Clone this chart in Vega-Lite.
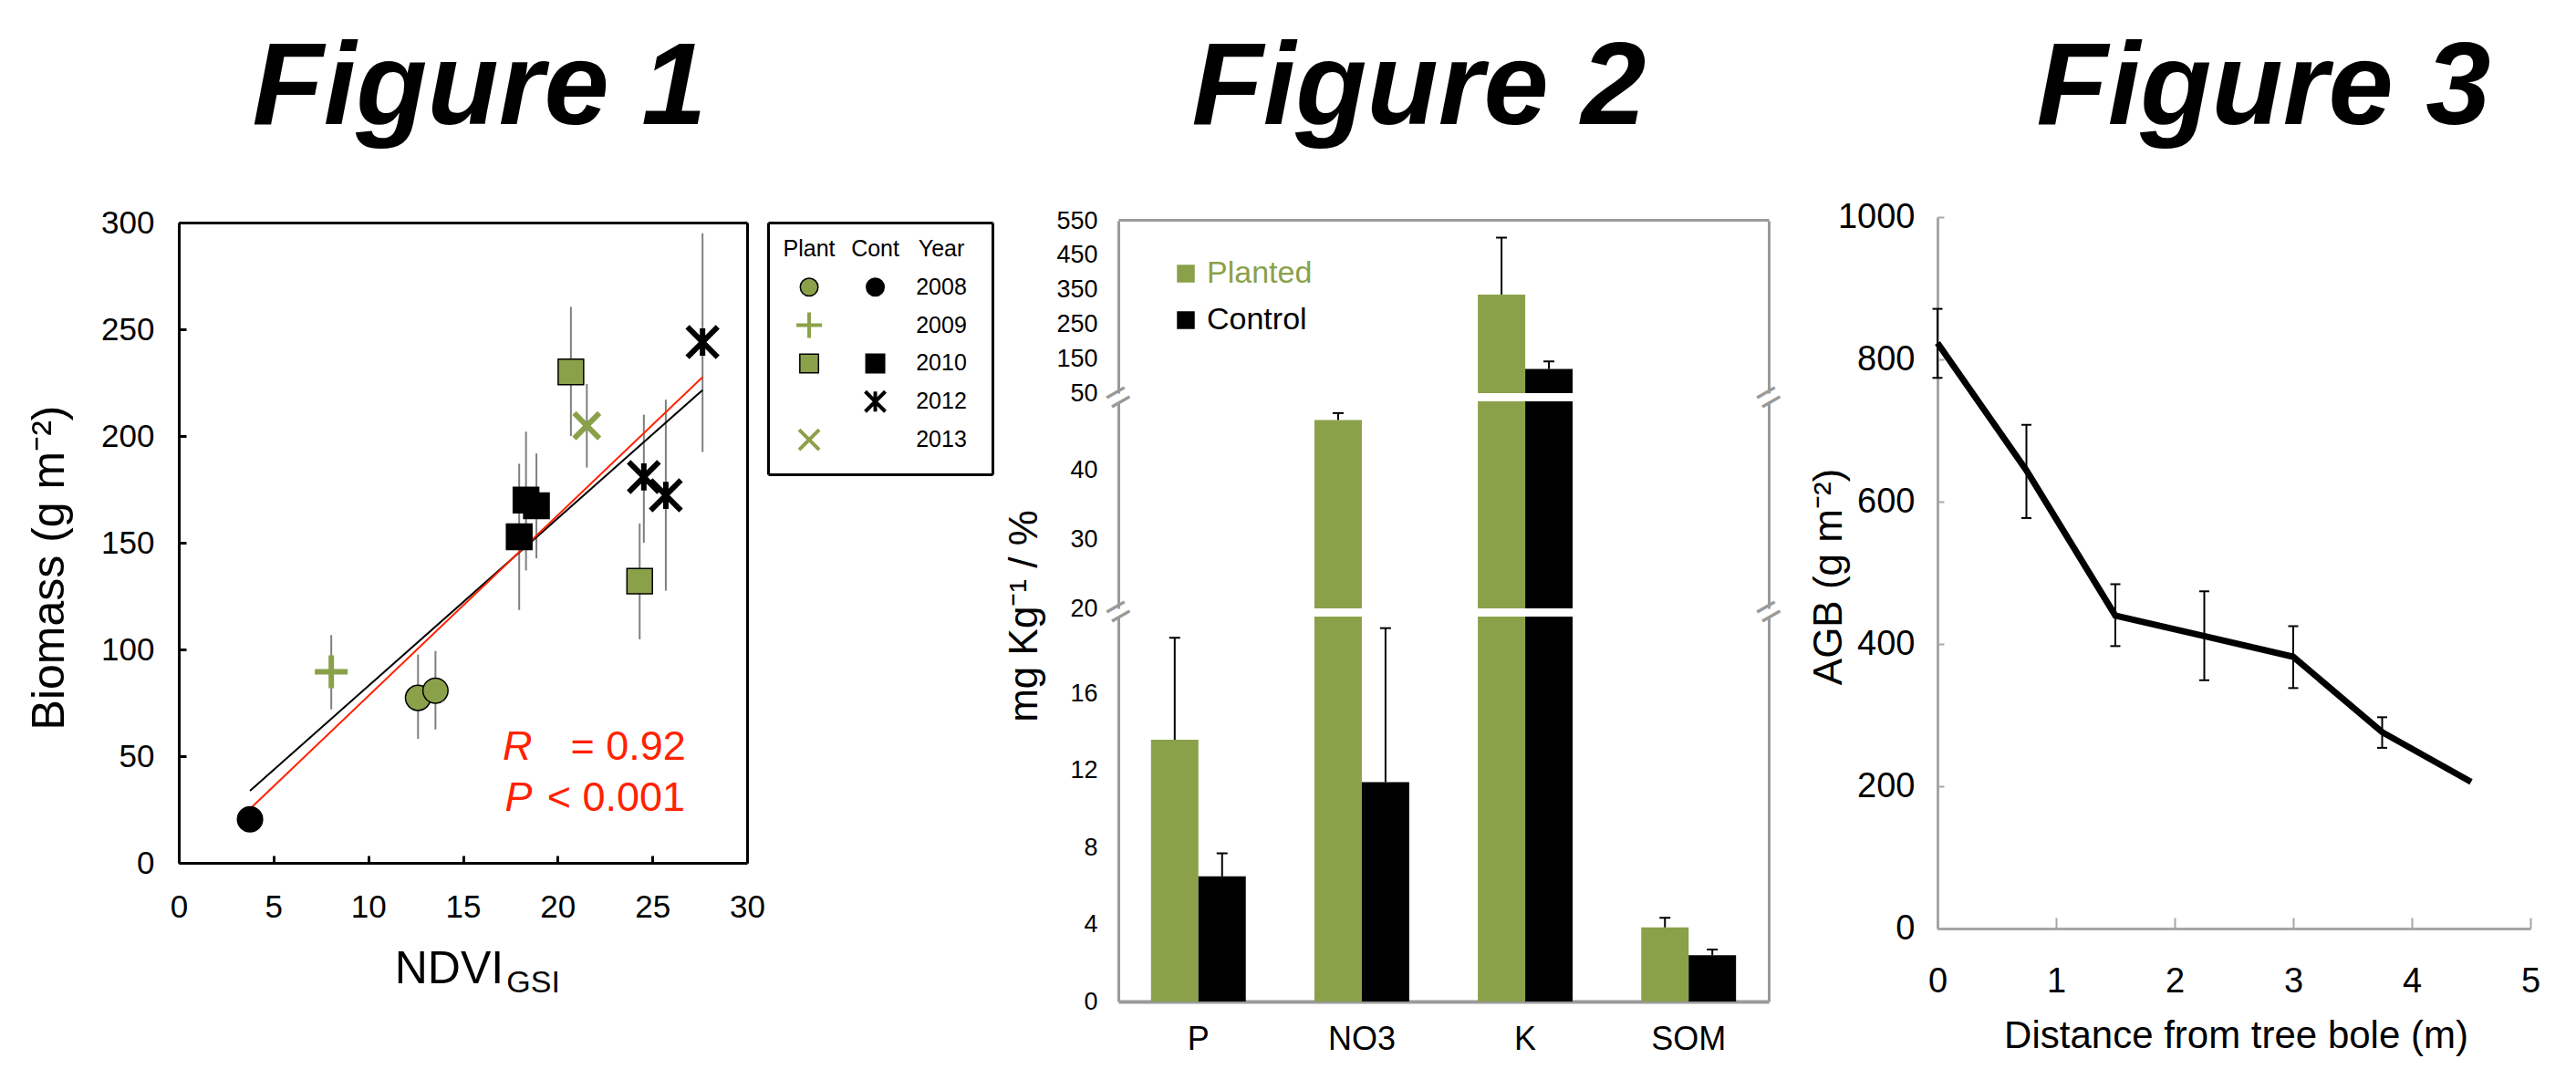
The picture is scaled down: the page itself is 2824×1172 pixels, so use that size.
{
  "$schema": "https://vega.github.io/schema/vega-lite/v6.json",
  "width": 2824,
  "height": 1172,
  "autosize": {"type": "none"},
  "padding": 0,
  "background": "white",
  "config": {
    "view": {"stroke": null},
    "font": "Liberation Sans",
    "axis": {"grid": false, "labelColor": "black", "titleColor": "black", "titleFontWeight": "normal", "labelFlush": false, "labelOverlap": false, "labelBound": false}
  },
  "datasets": {
    "fig1": [
      {"group": "Cont", "year": 2008, "ndvi": 3.76, "biomass": 20.4},
      {"group": "Plant", "year": 2008, "ndvi": 12.63, "biomass": 77.3, "lo": 58.1, "hi": 97.6},
      {"group": "Plant", "year": 2008, "ndvi": 13.55, "biomass": 80.7, "lo": 62.5, "hi": 99.3},
      {"group": "Plant", "year": 2009, "ndvi": 8.05, "biomass": 89.5, "lo": 71.9, "hi": 106.7},
      {"group": "Plant", "year": 2010, "ndvi": 20.7, "biomass": 230, "lo": 200, "hi": 260.5},
      {"group": "Plant", "year": 2010, "ndvi": 24.33, "biomass": 132, "lo": 104.7, "hi": 159},
      {"group": "Cont", "year": 2010, "ndvi": 17.97, "biomass": 152.8, "lo": 118.5, "hi": 187},
      {"group": "Cont", "year": 2010, "ndvi": 18.33, "biomass": 170, "lo": 137, "hi": 202},
      {"group": "Cont", "year": 2010, "ndvi": 18.88, "biomass": 167.3, "lo": 142.7, "hi": 191.8},
      {"group": "Cont", "year": 2012, "ndvi": 24.55, "biomass": 180.8, "lo": 150, "hi": 210},
      {"group": "Cont", "year": 2012, "ndvi": 25.71, "biomass": 172.2, "lo": 127.5, "hi": 217},
      {"group": "Cont", "year": 2012, "ndvi": 27.65, "biomass": 244, "lo": 192.5, "hi": 295},
      {"group": "Plant", "year": 2013, "ndvi": 21.54, "biomass": 204.8, "lo": 185.2, "hi": 224.4}
    ],
    "fits": [
      {"fit": "fit1", "ndvi": 3.76, "biomass": 33.8},
      {"fit": "fit1", "ndvi": 27.65, "biomass": 221.5},
      {"fit": "fit2", "ndvi": 3.76, "biomass": 25.3},
      {"fit": "fit2", "ndvi": 27.65, "biomass": 227.6}
    ],
    "annot": [
      {"line": "R", "part": "stat", "label": "R"},
      {"line": "R", "part": "value", "label": "= 0.92"},
      {"line": "P", "part": "stat", "label": "P"},
      {"line": "P", "part": "value", "label": "< 0.001"}
    ],
    "legsym": [
      {"col": "Plant", "row": "2008"},
      {"col": "Cont", "row": "2008"},
      {"col": "Plant", "row": "2009"},
      {"col": "Plant", "row": "2010"},
      {"col": "Cont", "row": "2010"},
      {"col": "Cont", "row": "2012"},
      {"col": "Plant", "row": "2013"}
    ],
    "legtext": [
      {"col": "Plant", "row": "header", "label": "Plant"},
      {"col": "Cont", "row": "header", "label": "Cont"},
      {"col": "Year", "row": "header", "label": "Year"},
      {"col": "Year", "row": "2008", "label": "2008"},
      {"col": "Year", "row": "2009", "label": "2009"},
      {"col": "Year", "row": "2010", "label": "2010"},
      {"col": "Year", "row": "2012", "label": "2012"},
      {"col": "Year", "row": "2013", "label": "2013"}
    ],
    "fig2": [
      {"nutrient": "P", "treat": "Planted", "mean": 13.6, "upper": 18.9},
      {"nutrient": "P", "treat": "Control", "mean": 6.5, "upper": 7.7},
      {"nutrient": "NO3", "treat": "Planted", "mean": 47.3, "upper": 48.3},
      {"nutrient": "NO3", "treat": "Control", "mean": 11.4, "upper": 19.4},
      {"nutrient": "K", "treat": "Planted", "mean": 336, "upper": 501},
      {"nutrient": "K", "treat": "Control", "mean": 120, "upper": 142},
      {"nutrient": "SOM", "treat": "Planted", "mean": 3.85, "upper": 4.35},
      {"nutrient": "SOM", "treat": "Control", "mean": 2.4, "upper": 2.7}
    ],
    "fig3": [
      {"dist": 0, "agb": 823, "lo": 774, "hi": 871},
      {"dist": 0.75, "agb": 644, "lo": 577, "hi": 708},
      {"dist": 1.5, "agb": 440, "lo": 397, "hi": 484},
      {"dist": 2.25, "agb": 411, "lo": 349, "hi": 474},
      {"dist": 3, "agb": 382, "lo": 338, "hi": 425},
      {"dist": 3.75, "agb": 276, "lo": 254, "hi": 297},
      {"dist": 4.5, "agb": 206}
    ]
  },
  "resolve": {"scale": {"x": "independent", "y": "independent"}, "axis": {"x": "independent", "y": "independent"}},
  "layer": [
    {
      "data": {"name": "fig1"},
      "resolve": {"axis": {"x": "independent", "y": "independent"}},
      "layer": [
        {
          "mark": {"type": "rule", "color": "#7f7f7f", "strokeWidth": 2},
          "encoding": {
            "x": {"field": "ndvi", "type": "quantitative", "scale": {"domain": [0, 30], "range": [196, 819], "nice": false, "zero": false},
              "axis": {"orient": "bottom", "offset": -226, "values": [0, 5, 10, 15, 20, 25, 30], "domainColor": "black", "domainWidth": 3, "tickColor": "black", "tickWidth": 3, "tickSize": -8, "labelFont": "Liberation Sans Narrow, Liberation Sans, sans-serif", "labelFontSize": 35, "labelPadding": 39, "title": "NDVI", "titleFontSize": 50, "titleX": 492, "titleY": 131, "titleBaseline": "alphabetic", "titleAlign": "center"}},
            "y": {"field": "lo", "type": "quantitative", "scale": {"domain": [0, 300], "range": [946, 244], "nice": false, "zero": false},
              "axis": {"orient": "left", "offset": -196, "values": [0, 50, 100, 150, 200, 250, 300], "domainColor": "black", "domainWidth": 3, "tickColor": "black", "tickWidth": 3, "tickSize": -8, "labelFont": "Liberation Sans Narrow, Liberation Sans, sans-serif", "labelFontSize": 35, "labelPadding": 35, "title": "Biomass (g m⁻²)", "titleFontSize": 50, "titleX": -142, "titleY": 622, "titleAngle": -90, "titleBaseline": "middle", "titleAlign": "center"}},
            "y2": {"field": "hi"}
          }
        },
        {
          "data": {"name": "fits"},
          "transform": [{"filter": "datum.fit === 'fit1'"}],
          "mark": {"type": "line", "color": "black", "strokeWidth": 2},
          "encoding": {
            "x": {"field": "ndvi", "type": "quantitative", "scale": {"domain": [0, 30], "range": [196, 819], "nice": false, "zero": false},
              "axis": {"orient": "top", "offset": -244, "domainColor": "black", "domainWidth": 3, "ticks": false, "tickSize": 0, "labels": false, "title": "Figure 1", "titleFont": "Liberation Sans", "titleFontSize": 128, "titleFontWeight": "bold", "titleFontStyle": "italic", "titleX": 525, "titleY": -109, "titleAngle": 0, "titleBaseline": "alphabetic", "titleAlign": "center"}},
            "y": {"field": "biomass", "type": "quantitative", "scale": {"domain": [0, 300], "range": [946, 244], "nice": false, "zero": false},
              "axis": {"orient": "right", "offset": -2005, "domainColor": "black", "domainWidth": 3, "ticks": false, "tickSize": 0, "labels": false, "title": null}}
          }
        },
        {
          "data": {"name": "fits"},
          "transform": [{"filter": "datum.fit === 'fit2'"}],
          "mark": {"type": "line", "color": "#ff2200", "strokeWidth": 2},
          "encoding": {
            "x": {"field": "ndvi", "type": "quantitative", "axis": null},
            "y": {"field": "biomass", "type": "quantitative", "axis": null}
          }
        },
        {
          "transform": [{"filter": "datum.year === 2008"}],
          "mark": {"type": "point", "shape": "circle", "filled": true, "size": 760, "stroke": "black", "strokeWidth": 1.5, "opacity": 1},
          "encoding": {
            "x": {"field": "ndvi", "type": "quantitative", "axis": null},
            "y": {"field": "biomass", "type": "quantitative", "axis": null},
            "fill": {"condition": {"test": "datum.group === 'Plant'", "value": "#8aa14a"}, "value": "black"}
          }
        },
        {
          "transform": [{"filter": "datum.year === 2010"}],
          "mark": {"type": "point", "shape": "square", "filled": true, "size": 780, "stroke": "black", "strokeWidth": 1.5, "opacity": 1},
          "encoding": {
            "x": {"field": "ndvi", "type": "quantitative", "axis": null},
            "y": {"field": "biomass", "type": "quantitative", "axis": null},
            "fill": {"condition": {"test": "datum.group === 'Plant'", "value": "#8aa14a"}, "value": "black"}
          }
        },
        {
          "transform": [{"filter": "datum.year === 2009"}],
          "mark": {"type": "point", "shape": "M-1,0L1,0M0,-1L0,1", "filled": false, "size": 1300, "strokeWidth": 6, "opacity": 1},
          "encoding": {
            "x": {"field": "ndvi", "type": "quantitative", "axis": null},
            "y": {"field": "biomass", "type": "quantitative", "axis": null},
            "stroke": {"condition": {"test": "datum.group === 'Plant'", "value": "#8aa14a"}, "value": "black"}
          }
        },
        {
          "transform": [{"filter": "datum.year === 2012"}],
          "mark": {"type": "point", "shape": "M-1,-1L1,1M-1,1L1,-1M0,-0.9L0,0.9", "filled": false, "size": 1100, "strokeWidth": 6, "opacity": 1},
          "encoding": {
            "x": {"field": "ndvi", "type": "quantitative", "axis": null},
            "y": {"field": "biomass", "type": "quantitative", "axis": null},
            "stroke": {"condition": {"test": "datum.group === 'Plant'", "value": "#8aa14a"}, "value": "black"}
          }
        },
        {
          "transform": [{"filter": "datum.year === 2013"}],
          "mark": {"type": "point", "shape": "M-1,-1L1,1M-1,1L1,-1", "filled": false, "size": 760, "strokeWidth": 6, "opacity": 1},
          "encoding": {
            "x": {"field": "ndvi", "type": "quantitative", "axis": null},
            "y": {"field": "biomass", "type": "quantitative", "axis": null},
            "stroke": {"condition": {"test": "datum.group === 'Plant'", "value": "#8aa14a"}, "value": "black"}
          }
        },
        {
          "data": {"name": "annot"},
          "transform": [{"filter": "datum.line === 'R' && datum.part === 'stat'"}],
          "mark": {"type": "text", "fontSize": 45, "fontStyle": "italic", "color": "#ff2200", "align": "left", "baseline": "alphabetic"},
          "encoding": {"x": {"datum": 17.09, "type": "quantitative", "axis": null}, "y": {"datum": 48.3, "type": "quantitative", "axis": null}, "text": {"field": "label"}}
        },
        {
          "data": {"name": "annot"},
          "transform": [{"filter": "datum.line === 'R' && datum.part === 'value'"}],
          "mark": {"type": "text", "fontSize": 45, "color": "#ff2200", "align": "left", "baseline": "alphabetic"},
          "encoding": {"x": {"datum": 20.68, "type": "quantitative", "axis": null}, "y": {"datum": 48.3, "type": "quantitative", "axis": null}, "text": {"field": "label"}}
        },
        {
          "data": {"name": "annot"},
          "transform": [{"filter": "datum.line === 'P' && datum.part === 'stat'"}],
          "mark": {"type": "text", "fontSize": 45, "fontStyle": "italic", "color": "#ff2200", "align": "left", "baseline": "alphabetic"},
          "encoding": {"x": {"datum": 17.22, "type": "quantitative", "axis": null}, "y": {"datum": 24.5, "type": "quantitative", "axis": null}, "text": {"field": "label"}}
        },
        {
          "data": {"name": "annot"},
          "transform": [{"filter": "datum.line === 'P' && datum.part === 'value'"}],
          "mark": {"type": "text", "fontSize": 45, "color": "#ff2200", "align": "left", "baseline": "alphabetic"},
          "encoding": {"x": {"datum": 19.44, "type": "quantitative", "axis": null}, "y": {"datum": 24.5, "type": "quantitative", "axis": null}, "text": {"field": "label"}}
        },
        {
          "data": {"values": [{"label": "GSI"}]},
          "mark": {"type": "text", "fontSize": 34, "color": "black", "align": "left", "baseline": "alphabetic"},
          "encoding": {"x": {"datum": 17.3, "type": "quantitative", "axis": null}, "y": {"datum": -60.7, "type": "quantitative", "axis": null}, "text": {"field": "label"}}
        }
      ]
    },
    {
      "resolve": {"axis": {"x": "independent", "y": "independent"}},
      "layer": [
        {
          "data": {"name": "legtext"},
          "mark": {"type": "text", "fontSize": 25, "align": "center", "baseline": "middle", "color": "black"},
          "encoding": {
            "x": {"field": "col", "type": "nominal", "scale": {"type": "point", "domain": ["Plant", "Cont", "Year"], "range": [842, 1088], "padding": 0.697, "align": 0.446},
              "axis": {"orient": "bottom", "offset": -652, "domainColor": "black", "domainWidth": 3, "ticks": false, "tickSize": 0, "labels": false, "title": null}},
            "y": {"field": "row", "type": "nominal", "scale": {"type": "point", "domain": ["header", "2008", "2009", "2010", "2012", "2013"], "range": [244, 520], "padding": 0.8, "align": 0.433},
              "axis": {"orient": "left", "offset": -842, "domainColor": "black", "domainWidth": 3, "ticks": false, "tickSize": 0, "labels": false, "title": null}},
            "text": {"field": "label"}
          }
        },
        {
          "data": {"name": "legsym"},
          "transform": [{"filter": "datum.row === '2008'"}],
          "mark": {"type": "point", "shape": "circle", "filled": true, "size": 380, "stroke": "black", "strokeWidth": 1.5, "opacity": 1},
          "encoding": {
            "x": {"field": "col", "type": "nominal", "axis": {"orient": "top", "offset": -244, "domainColor": "black", "domainWidth": 3, "ticks": false, "tickSize": 0, "labels": false, "title": null}},
            "y": {"field": "row", "type": "nominal", "axis": {"orient": "right", "offset": -1736, "domainColor": "black", "domainWidth": 3, "ticks": false, "tickSize": 0, "labels": false, "title": null}},
            "fill": {"condition": {"test": "datum.col === 'Plant'", "value": "#8aa14a"}, "value": "black"}
          }
        },
        {
          "data": {"name": "legsym"},
          "transform": [{"filter": "datum.row === '2010'"}],
          "mark": {"type": "point", "shape": "square", "filled": true, "size": 420, "stroke": "black", "strokeWidth": 1.5, "opacity": 1},
          "encoding": {
            "x": {"field": "col", "type": "nominal", "axis": null},
            "y": {"field": "row", "type": "nominal", "axis": null},
            "fill": {"condition": {"test": "datum.col === 'Plant'", "value": "#8aa14a"}, "value": "black"}
          }
        },
        {
          "data": {"name": "legsym"},
          "transform": [{"filter": "datum.row === '2009'"}],
          "mark": {"type": "point", "shape": "M-1,0L1,0M0,-1L0,1", "filled": false, "size": 784, "strokeWidth": 4, "opacity": 1},
          "encoding": {
            "x": {"field": "col", "type": "nominal", "axis": null},
            "y": {"field": "row", "type": "nominal", "axis": null},
            "stroke": {"condition": {"test": "datum.col === 'Plant'", "value": "#8aa14a"}, "value": "black"}
          }
        },
        {
          "data": {"name": "legsym"},
          "transform": [{"filter": "datum.row === '2012'"}],
          "mark": {"type": "point", "shape": "M-1,-1L1,1M-1,1L1,-1M0,-1L0,1", "filled": false, "size": 484, "strokeWidth": 4, "opacity": 1},
          "encoding": {
            "x": {"field": "col", "type": "nominal", "axis": null},
            "y": {"field": "row", "type": "nominal", "axis": null},
            "stroke": {"condition": {"test": "datum.col === 'Plant'", "value": "#8aa14a"}, "value": "black"}
          }
        },
        {
          "data": {"name": "legsym"},
          "transform": [{"filter": "datum.row === '2013'"}],
          "mark": {"type": "point", "shape": "M-1,-1L1,1M-1,1L1,-1", "filled": false, "size": 484, "strokeWidth": 4, "opacity": 1},
          "encoding": {
            "x": {"field": "col", "type": "nominal", "axis": null},
            "y": {"field": "row", "type": "nominal", "axis": null},
            "stroke": {"condition": {"test": "datum.col === 'Plant'", "value": "#8aa14a"}, "value": "black"}
          }
        }
      ]
    },
    {
      "data": {"name": "fig2"},
      "resolve": {"scale": {"y": "independent"}, "axis": {"x": "independent", "y": "independent"}},
      "layer": [
        {
          "resolve": {"axis": {"x": "independent", "y": "independent"}},
          "layer": [
            {
              "mark": {"type": "bar"},
              "encoding": {
                "x": {"field": "nutrient", "type": "nominal", "sort": ["P", "NO3", "K", "SOM"], "scale": {"type": "band", "domain": ["P", "NO3", "K", "SOM"], "range": [1226, 1939], "paddingInner": 0.42, "paddingOuter": 0.2},
                  "axis": {"orient": "top", "offset": -241, "domainColor": "#9a9a9a", "domainWidth": 3, "ticks": false, "tickSize": 0, "labels": false, "title": "Figure 2", "titleFont": "Liberation Sans", "titleFontSize": 128, "titleFontWeight": "bold", "titleFontStyle": "italic", "titleX": 1555, "titleY": -106, "titleAngle": 0, "titleBaseline": "alphabetic", "titleAlign": "center"}},
                "xOffset": {"field": "treat", "type": "nominal", "sort": ["Planted", "Control"]},
                "y": {"field": "mean", "type": "quantitative", "scale": {"domain": [50, 550], "range": [431, 242], "clamp": true, "nice": false, "zero": false},
                  "axis": {"orient": "left", "offset": -1226, "values": [50, 150, 250, 350, 450, 550], "domainColor": "#9a9a9a", "domainWidth": 3, "ticks": false, "tickSize": 0, "labelFontSize": 27, "labelPadding": 23, "title": null}},
                "y2": {"datum": 0},
                "color": {"field": "treat", "type": "nominal", "scale": {"domain": ["Planted", "Control"], "range": ["#8aa14a", "#000000"]},
                  "legend": {"orient": "none", "legendX": 1283, "legendY": 283, "title": null, "direction": "vertical", "symbolType": "square", "symbolSize": 380, "symbolStrokeWidth": 0, "labelFontSize": 34, "labelFont": "Liberation Sans", "labelOffset": 6, "rowPadding": 17, "padding": 0,
                    "encode": {"labels": {"update": {"fill": {"signal": "datum.value === 'Planted' ? '#8aa14a' : '#000000'"}}}}}}
              }
            },
            {
              "transform": [{"filter": "datum.upper > 50"}],
              "mark": {"type": "rule", "color": "black", "strokeWidth": 2},
              "encoding": {
                "x": {"field": "nutrient", "type": "nominal", "sort": ["P", "NO3", "K", "SOM"], "axis": null},
                "xOffset": {"field": "treat", "type": "nominal", "sort": ["Planted", "Control"]},
                "y": {"field": "mean", "type": "quantitative", "axis": {"orient": "right", "offset": -885, "values": [50], "domainColor": "#9a9a9a", "domainWidth": 3, "ticks": false, "tickSize": 0, "labelExpr": "'='", "labelAngle": -30, "labelAlign": "center", "labelBaseline": "middle", "labelPadding": 0, "labelOffset": 5, "labelFontSize": 46, "labelColor": "#9a9a9a", "title": null}},
                "y2": {"field": "upper"}
              }
            },
            {
              "transform": [{"filter": "datum.upper > 50"}],
              "mark": {"type": "tick", "color": "black", "thickness": 2, "size": 12, "opacity": 1},
              "encoding": {
                "x": {"field": "nutrient", "type": "nominal", "sort": ["P", "NO3", "K", "SOM"], "axis": null},
                "xOffset": {"field": "treat", "type": "nominal", "sort": ["Planted", "Control"]},
                "y": {"field": "upper", "type": "quantitative", "axis": {"orient": "left", "offset": -1226, "values": [50], "domain": false, "ticks": false, "tickSize": 0, "labelExpr": "'='", "labelAngle": -30, "labelAlign": "center", "labelBaseline": "middle", "labelPadding": 0, "labelOffset": 5, "labelFontSize": 46, "labelColor": "#9a9a9a", "title": null}}
              }
            }
          ]
        },
        {
          "resolve": {"axis": {"x": "independent", "y": "independent"}},
          "layer": [
            {
              "mark": {"type": "bar"},
              "encoding": {
                "x": {"field": "nutrient", "type": "nominal", "sort": ["P", "NO3", "K", "SOM"], "axis": null},
                "xOffset": {"field": "treat", "type": "nominal", "sort": ["Planted", "Control"]},
                "y": {"field": "mean", "type": "quantitative", "scale": {"domain": [20, 50], "range": [667, 440], "clamp": true, "nice": false, "zero": false},
                  "axis": {"orient": "left", "offset": -1226, "values": [20, 30, 40], "domainColor": "#9a9a9a", "domainWidth": 3, "ticks": false, "tickSize": 0, "labelFontSize": 27, "labelPadding": 23, "title": null}},
                "y2": {"datum": 0},
                "color": {"field": "treat", "type": "nominal", "scale": {"domain": ["Planted", "Control"], "range": ["#8aa14a", "#000000"]}}
              }
            },
            {
              "transform": [{"filter": "datum.upper > 20 && datum.upper <= 50"}],
              "mark": {"type": "rule", "color": "black", "strokeWidth": 2},
              "encoding": {
                "x": {"field": "nutrient", "type": "nominal", "sort": ["P", "NO3", "K", "SOM"], "axis": null},
                "xOffset": {"field": "treat", "type": "nominal", "sort": ["Planted", "Control"]},
                "y": {"field": "mean", "type": "quantitative", "axis": {"orient": "right", "offset": -885, "domainColor": "#9a9a9a", "domainWidth": 3, "ticks": false, "tickSize": 0, "labels": false, "title": null}},
                "y2": {"field": "upper"}
              }
            },
            {
              "transform": [{"filter": "datum.upper > 20 && datum.upper <= 50"}],
              "mark": {"type": "tick", "color": "black", "thickness": 2, "size": 12, "opacity": 1},
              "encoding": {
                "x": {"field": "nutrient", "type": "nominal", "sort": ["P", "NO3", "K", "SOM"], "axis": null},
                "xOffset": {"field": "treat", "type": "nominal", "sort": ["Planted", "Control"]},
                "y": {"field": "upper", "type": "quantitative", "axis": null}
              }
            }
          ]
        },
        {
          "resolve": {"axis": {"x": "independent", "y": "independent"}},
          "layer": [
            {
              "mark": {"type": "bar"},
              "encoding": {
                "x": {"field": "nutrient", "type": "nominal", "sort": ["P", "NO3", "K", "SOM"],
                  "axis": {"orient": "bottom", "offset": -74, "domainColor": "#9a9a9a", "domainWidth": 4, "ticks": false, "tickSize": 0, "labelFontSize": 36, "labelPadding": 24, "labelAngle": 0, "title": null}},
                "xOffset": {"field": "treat", "type": "nominal", "sort": ["Planted", "Control"]},
                "y": {"field": "mean", "type": "quantitative", "scale": {"domain": [0, 20], "range": [1098, 676], "clamp": true, "nice": false, "zero": false},
                  "axis": {"orient": "left", "offset": -1226, "values": [0, 4, 8, 12, 16], "domainColor": "#9a9a9a", "domainWidth": 3, "ticks": false, "tickSize": 0, "labelFontSize": 27, "labelPadding": 23, "title": "mg Kg⁻¹ / %", "titleFontSize": 44, "titleX": -103, "titleY": 675, "titleAngle": -90, "titleBaseline": "middle", "titleAlign": "center"}},
                "y2": {"datum": 0},
                "color": {"field": "treat", "type": "nominal", "scale": {"domain": ["Planted", "Control"], "range": ["#8aa14a", "#000000"]}}
              }
            },
            {
              "transform": [{"filter": "datum.upper <= 20"}],
              "mark": {"type": "rule", "color": "black", "strokeWidth": 2},
              "encoding": {
                "x": {"field": "nutrient", "type": "nominal", "sort": ["P", "NO3", "K", "SOM"], "axis": null},
                "xOffset": {"field": "treat", "type": "nominal", "sort": ["Planted", "Control"]},
                "y": {"field": "mean", "type": "quantitative", "axis": {"orient": "right", "offset": -885, "values": [20], "domainColor": "#9a9a9a", "domainWidth": 3, "ticks": false, "tickSize": 0, "labelExpr": "'='", "labelAngle": -30, "labelAlign": "center", "labelBaseline": "middle", "labelPadding": 0, "labelOffset": -5, "labelFontSize": 46, "labelColor": "#9a9a9a", "title": null}},
                "y2": {"field": "upper"}
              }
            },
            {
              "transform": [{"filter": "datum.upper <= 20"}],
              "mark": {"type": "tick", "color": "black", "thickness": 2, "size": 12, "opacity": 1},
              "encoding": {
                "x": {"field": "nutrient", "type": "nominal", "sort": ["P", "NO3", "K", "SOM"], "axis": null},
                "xOffset": {"field": "treat", "type": "nominal", "sort": ["Planted", "Control"]},
                "y": {"field": "upper", "type": "quantitative", "axis": {"orient": "left", "offset": -1226, "values": [20], "domain": false, "ticks": false, "tickSize": 0, "labelExpr": "'='", "labelAngle": -30, "labelAlign": "center", "labelBaseline": "middle", "labelPadding": 0, "labelOffset": -5, "labelFontSize": 46, "labelColor": "#9a9a9a", "title": null}}
              }
            }
          ]
        }
      ]
    },
    {
      "data": {"name": "fig3"},
      "resolve": {"axis": {"x": "independent", "y": "independent"}},
      "layer": [
        {
          "mark": {"type": "rule", "color": "black", "strokeWidth": 2},
          "encoding": {
            "x": {"field": "dist", "type": "quantitative", "scale": {"domain": [0, 5], "range": [2124, 2774], "nice": false, "zero": false},
              "axis": {"orient": "bottom", "offset": -154, "values": [0, 1, 2, 3, 4, 5], "format": "d", "domainColor": "#a6a6a6", "domainWidth": 3, "tickColor": "#a6a6a6", "tickWidth": 2, "tickSize": -12, "labelFont": "Liberation Sans Narrow, Liberation Sans, sans-serif", "labelFontSize": 38, "labelPadding": 51, "title": "Distance from tree bole (m)", "titleFontSize": 42, "titleX": 2451, "titleY": 130, "titleBaseline": "alphabetic", "titleAlign": "center"}},
            "y": {"field": "lo", "type": "quantitative", "scale": {"domain": [0, 1000], "range": [1018, 238], "nice": false, "zero": false},
              "axis": {"orient": "left", "offset": -2124, "values": [0, 200, 400, 600, 800, 1000], "format": "d", "domainColor": "#a6a6a6", "domainWidth": 3, "tickColor": "#a6a6a6", "tickWidth": 2, "tickSize": -7, "labelFont": "Liberation Sans Narrow, Liberation Sans, sans-serif", "labelFontSize": 38, "labelPadding": 32, "title": "AGB (g m⁻²)", "titleFontSize": 44, "titleX": -119, "titleY": 632, "titleAngle": -90, "titleBaseline": "middle", "titleAlign": "center"}},
            "y2": {"field": "hi"}
          }
        },
        {
          "mark": {"type": "line", "color": "black", "strokeWidth": 7},
          "encoding": {
            "x": {"field": "dist", "type": "quantitative",
              "axis": {"orient": "top", "offset": -238, "domain": false, "ticks": false, "tickSize": 0, "labels": false, "title": "Figure 3", "titleFont": "Liberation Sans", "titleFontSize": 128, "titleFontWeight": "bold", "titleFontStyle": "italic", "titleX": 2481, "titleY": -103, "titleAngle": 0, "titleBaseline": "alphabetic", "titleAlign": "center"}},
            "y": {"field": "agb", "type": "quantitative", "axis": null}
          }
        },
        {
          "mark": {"type": "tick", "orient": "horizontal", "color": "black", "thickness": 2, "size": 11, "opacity": 1},
          "encoding": {
            "x": {"field": "dist", "type": "quantitative", "axis": null},
            "y": {"field": "hi", "type": "quantitative", "axis": null}
          }
        },
        {
          "mark": {"type": "tick", "orient": "horizontal", "color": "black", "thickness": 2, "size": 11, "opacity": 1},
          "encoding": {
            "x": {"field": "dist", "type": "quantitative", "axis": null},
            "y": {"field": "lo", "type": "quantitative", "axis": null}
          }
        }
      ]
    }
  ]
}
